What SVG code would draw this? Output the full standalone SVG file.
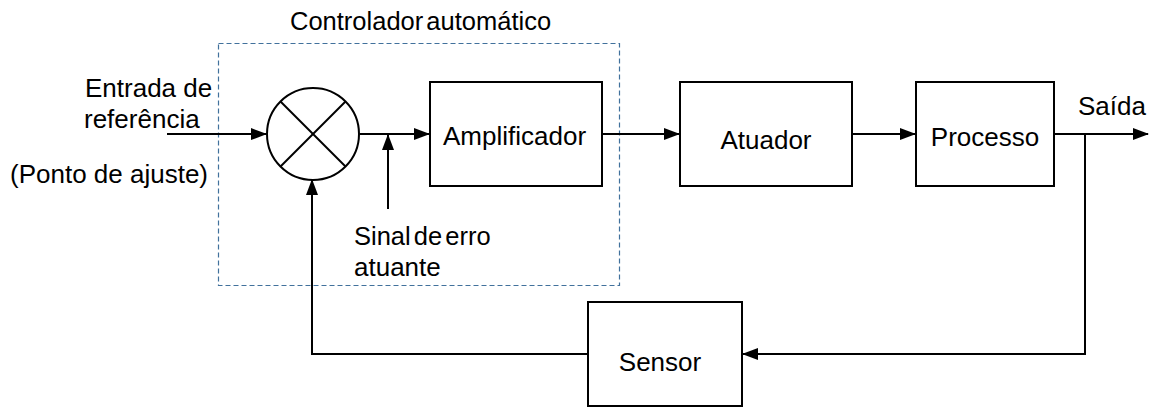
<svg xmlns="http://www.w3.org/2000/svg" width="1153" height="408" viewBox="0 0 1153 408">
<style>
.t{font-family:"Liberation Sans",Arial,sans-serif;font-size:26px;fill:#000}
.n{font-size:25.5px}
.b{fill:#fff;stroke:#000;stroke-width:2}
.c{fill:none;stroke:#000;stroke-width:2}
</style>
<defs>
<marker id="ah" markerWidth="16" markerHeight="12" refX="15" refY="6" orient="auto" markerUnits="userSpaceOnUse">
<path d="M0,0 L16,6 L0,12 Z" fill="#000"/>
</marker>
</defs>
<rect width="1153" height="408" fill="#fff"/>
<g id="controlador">
<rect x="218.5" y="43.5" width="401" height="242" fill="none" stroke="#41719c" stroke-width="1.2" stroke-dasharray="5,3"/>
<text class="t n" x="290" y="30" word-spacing="-4">Controlador automático</text>
</g>
<g id="connectors">
<line class="c" x1="167" y1="134" x2="266" y2="134" marker-end="url(#ah)"/>
<line class="c" x1="360" y1="134" x2="429" y2="134" marker-end="url(#ah)"/>
<line class="c" x1="388" y1="209" x2="388" y2="135" marker-end="url(#ah)"/>
<line class="c" x1="603" y1="134" x2="679" y2="134" marker-end="url(#ah)"/>
<line class="c" x1="853" y1="134" x2="915" y2="134" marker-end="url(#ah)"/>
<line class="c" x1="1055" y1="134" x2="1148" y2="134" marker-end="url(#ah)"/>
<polyline class="c" points="1085,134 1085,354 743,354" marker-end="url(#ah)"/>
<polyline class="c" points="588,354 312,354 312,180" marker-end="url(#ah)"/>
</g>
<g id="somador">
<circle class="b" cx="313" cy="134" r="46"/>
<line class="c" x1="280.5" y1="101.5" x2="345.5" y2="166.5"/>
<line class="c" x1="345.5" y1="101.5" x2="280.5" y2="166.5"/>
</g>
<g id="amplificador">
<rect class="b" x="430" y="82" width="172" height="104"/>
<text class="t" x="443" y="145">Amplificador</text>
</g>
<g id="atuador">
<rect class="b" x="680" y="82" width="172" height="104"/>
<text class="t" x="766" y="149" text-anchor="middle">Atuador</text>
</g>
<g id="processo">
<rect class="b" x="916" y="82" width="138" height="104"/>
<text class="t" x="985" y="146" text-anchor="middle">Processo</text>
</g>
<g id="sensor">
<rect class="b" x="588" y="302" width="154" height="104"/>
<text class="t" x="660" y="371" text-anchor="middle">Sensor</text>
</g>
<g id="labels">
<text class="t" x="85" y="97">Entrada de</text>
<text class="t" x="84" y="128">referência</text>
<text class="t" x="10" y="183">(Ponto de ajuste)</text>
<text class="t n" x="354" y="245" word-spacing="-4">Sinal de erro</text>
<text class="t" x="354" y="276">atuante</text>
<text class="t" x="1078" y="115">Saída</text>
</g>
</svg>
